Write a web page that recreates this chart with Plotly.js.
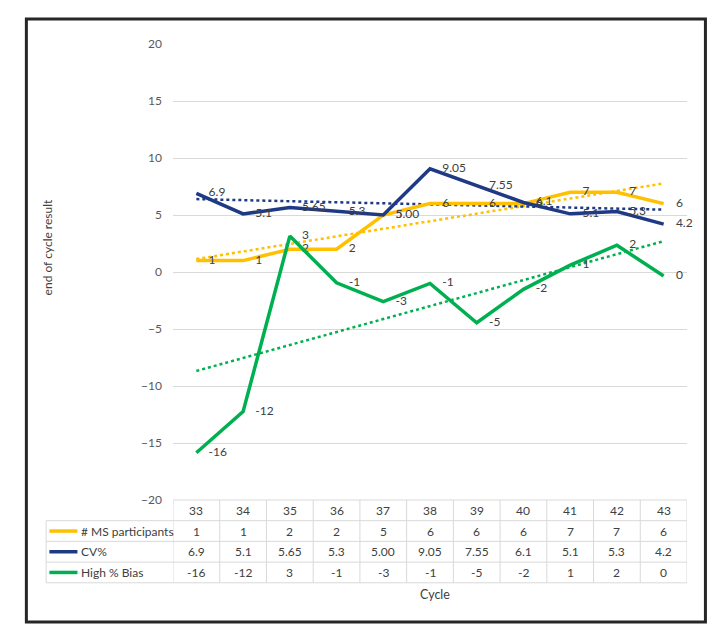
<!DOCTYPE html>
<html>
<head>
<meta charset="utf-8">
<script src="https://cdn.plot.ly/plotly-3.0.1.min.js"></script>
<style>html,body{margin:0;padding:0;background:#fff;}#chart{width:710px;height:639px;}</style>
</head>
<body>
<div id="chart"></div>
<script>
// ---- data ----
var cycles = [33, 34, 35, 36, 37, 38, 39, 40, 41, 42, 43];
var msParticipants = [1, 1, 2, 2, 5, 6, 6, 6, 7, 7, 6];
var msLabels = ['1', '1', '2', '2', '5', '6', '6', '6', '7', '7', '6'];
var cvValues = [6.9, 5.1, 5.65, 5.3, 5.00, 9.05, 7.55, 6.1, 5.1, 5.3, 4.2];
var cvLabels = ['6.9', '5.1', '5.65', '5.3', '5.00', '9.05', '7.55', '6.1', '5.1', '5.3', '4.2'];
var biasValues = [-15.85, -12.25, 3.15, -0.95, -2.6, -1.0, -4.45, -1.52, 0.6, 2.35, -0.35];
var biasLabels = ['-16', '-12', '3', '-1', '-3', '-1', '-5', '-2', '1', '2', '0'];
var seriesNames = ['# MS participants', 'CV%', 'High % Bias'];
var yTitle = 'end of cycle result';
var xTitle = 'Cycle';

var colors = ['#FFC000', '#1F3A85', '#00B050'];
var FONT = 'Lato, "Open Sans", sans-serif';

// linear trendline (least squares over category index)
function trend(vals) {
  var n = vals.length, sx = 0, sy = 0, sxy = 0, sxx = 0;
  for (var i = 0; i < n; i++) { sx += i; sy += vals[i]; sxy += i * vals[i]; sxx += i * i; }
  var b = (n * sxy - sx * sy) / (n * sxx - sx * sx);
  var a = (sy - b * sx) / n;
  return vals.map(function (v, i) { return a + b * i; });
}

// plot-area geometry (px)
var L = 173.4, R = 686.6, T = 44, B = 500, W = 710, H = 639;
function xp(px) { return (px - L) / (R - L); }
function yp(py) { return (B - py) / (B - T); }

var allVals = [msParticipants, cvValues, biasValues];
var allLabels = [msLabels, cvLabels, biasLabels];
var traces = [];
for (var s = 0; s < 3; s++) {
  traces.push({
    x: cycles, y: trend(allVals[s]), mode: 'lines', type: 'scatter',
    line: {color: colors[s], width: 2.5, dash: 'dot'}, hoverinfo: 'skip', showlegend: false
  });
}
for (var s2 = 0; s2 < 3; s2++) {
  traces.push({
    x: cycles, y: allVals[s2], mode: 'lines+markers+text', type: 'scatter',
    name: seriesNames[s2],
    line: {color: colors[s2], width: 3.5},
    marker: {size: 18, opacity: 0, color: colors[s2]},
    text: allLabels[s2], textposition: 'middle right',
    textfont: {family: FONT, size: 12, color: '#404040'},
    cliponaxis: false, showlegend: false
  });
}

var shapes = [];
var annotations = [];
var gridCol = '#D9D9D9';
// outer frame
shapes.push({type: 'rect', xref: 'paper', yref: 'paper', x0: xp(27), x1: xp(705), y0: yp(19), y1: yp(622),
  line: {color: '#262626', width: 3}, fillcolor: 'rgba(0,0,0,0)', layer: 'below'});

// data table
var rowTop = 500, rowH = 20.7;
var rows = [rowTop, rowTop + rowH, rowTop + 2 * rowH, rowTop + 3 * rowH, rowTop + 4 * rowH];
var legL = 46.7;
// horizontal lines
shapes.push({type: 'line', xref: 'paper', yref: 'paper', x0: 0, x1: 1, y0: yp(rows[0]), y1: yp(rows[0]), line: {color: gridCol, width: 1}});
for (var r = 1; r < rows.length; r++) {
  shapes.push({type: 'line', xref: 'paper', yref: 'paper', x0: xp(legL), x1: 1, y0: yp(rows[r]), y1: yp(rows[r]), line: {color: gridCol, width: 1}});
}
// vertical lines
shapes.push({type: 'line', xref: 'paper', yref: 'paper', x0: xp(legL), x1: xp(legL), y0: yp(rows[1]), y1: yp(rows[4]), line: {color: gridCol, width: 1}});
for (var c = 0; c <= cycles.length; c++) {
  var xv = cycles[0] - 0.5 + c;
  shapes.push({type: 'line', xref: 'x', yref: 'paper', x0: xv, x1: xv, y0: yp(rows[0]), y1: yp(rows[4]), line: {color: gridCol, width: 1}});
}
// header cells
var cellFont = {family: FONT, size: 12, color: '#404040'};
cycles.forEach(function (cy) {
  annotations.push({xref: 'x', yref: 'paper', x: cy, y: yp(rows[0] + rowH / 2), text: String(cy), showarrow: false,
    xanchor: 'center', yanchor: 'middle', font: cellFont});
});
// series rows
for (var k = 0; k < 3; k++) {
  var yc = yp(rows[k + 1] + rowH / 2);
  shapes.push({type: 'line', xref: 'paper', yref: 'paper', x0: xp(50), x1: xp(78), y0: yc, y1: yc, line: {color: colors[k], width: 3.5}});
  annotations.push({xref: 'paper', yref: 'paper', x: xp(80), y: yc, text: seriesNames[k], showarrow: false,
    xanchor: 'left', yanchor: 'middle', font: cellFont});
  for (var j = 0; j < cycles.length; j++) {
    annotations.push({xref: 'x', yref: 'paper', x: cycles[j], y: yc, text: allLabels[k][j], showarrow: false,
      xanchor: 'center', yanchor: 'middle', font: cellFont});
  }
}
// axis titles
annotations.push({xref: 'paper', yref: 'paper', x: xp(48), y: yp(247), text: yTitle, textangle: -90, showarrow: false,
  xanchor: 'center', yanchor: 'middle', font: {family: FONT, size: 12, color: '#404040'}});
annotations.push({xref: 'paper', yref: 'paper', x: xp(435), y: yp(594), text: xTitle, showarrow: false,
  xanchor: 'center', yanchor: 'middle', font: {family: FONT, size: 12.5, color: '#404040'}});

var layout = {
  width: W, height: H,
  margin: {l: L, r: W - R, t: T, b: H - B, pad: 0},
  paper_bgcolor: '#ffffff', plot_bgcolor: '#ffffff',
  showlegend: false,
  xaxis: {type: 'linear', range: [32.5, 43.5], showticklabels: false, showgrid: false, zeroline: false, showline: false, ticks: ''},
  yaxis: {range: [-20, 20], dtick: 5, tick0: 0, showgrid: true, gridcolor: gridCol, gridwidth: 1, zeroline: false,
    showline: false, ticks: '', ticklabelstandoff: 10,
    tickfont: {family: FONT, size: 12, color: '#595959'}},
  shapes: shapes,
  annotations: annotations,
  font: {family: FONT}
};

Plotly.newPlot('chart', traces, layout, {staticPlot: true, displayModeBar: false});
</script>
</body>
</html>
